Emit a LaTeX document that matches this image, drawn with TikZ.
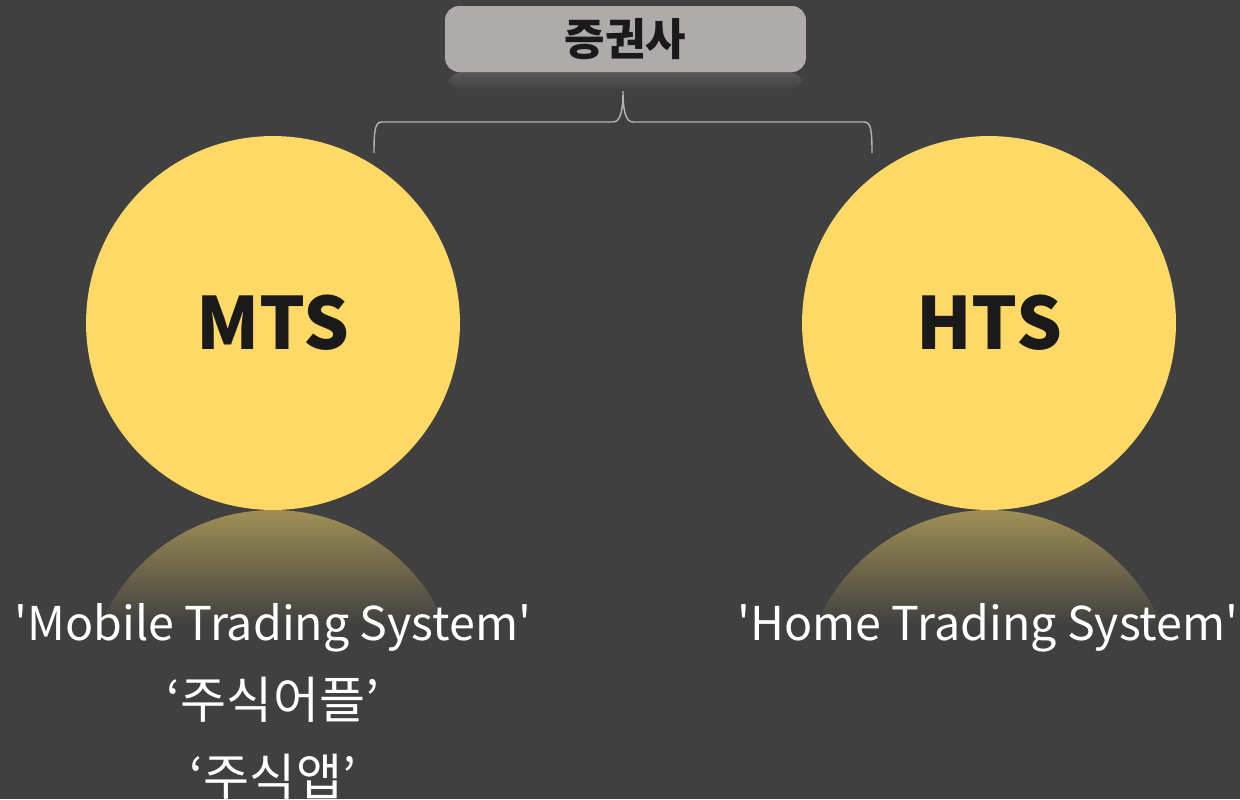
\documentclass[tikz,border=0pt]{standalone}
\usepackage{fontspec}
\setmainfont{Noto Sans CJK KR}[Ligatures=TeXOff]
\usepackage{tikz}
\usepackage{xcolor}
\usetikzlibrary{
  positioning, calc,
}
\definecolor{cBack}     {HTML}{404040}
\definecolor{cGold}     {HTML}{FFD966}
\definecolor{cGoldDim}  {HTML}{A08F55}
\definecolor{cBox}      {HTML}{AFABAA}
\definecolor{cInk}      {HTML}{1A1A1A}
\definecolor{cBrace}    {HTML}{B4B4B4}

\tikzset{
  sysdisk/.style  = {circle, fill=cGold, minimum size=7.48cm, inner sep=0pt,
                     font=\fontsize{41}{46}\selectfont\bfseries, text=cInk},
  caption/.style  = {font=\fontsize{26.5}{32}\selectfont, text=white,
                     anchor=base},
  kocaption/.style = {caption, font=\fontsize{28.5}{34}\selectfont},
}

\begin{document}
\begin{tikzpicture}[x=0.02cm, y=-0.02cm]
  \fill[cBack] (0,0) rectangle (1240,799);
  \useasboundingbox (0,0) rectangle (1240,799);

  % reflections under the discs
  \foreach \cx in {273, 989} {
    \begin{scope}
      \clip (\cx,697) circle [radius=187];
      \shade[top color=cGoldDim, bottom color=cBack]
        (\cx-190,510) rectangle (\cx+190,625);
    \end{scope}
  }
  \shade[top color=black!30!cBox!45!cBack, bottom color=cBack, rounded corners=8]
    (448,72) rectangle (803,90);

  % header box
  \node[fill=cBox, rounded corners=8, minimum width=7.22cm, minimum height=1.32cm,
        font=\fontsize{25}{30}\selectfont\bfseries, text=cInk]
        (broker) at (625.5,39) {증권사};

  % discs
  \node[sysdisk] (mts) at (273,323) {MTS};
  \node[sysdisk] (hts) at (989,323) {HTS};

  % brace from the box down to both discs
  \coordinate (braceL) at (374,153);
  \coordinate (braceR) at (872,153);
  \coordinate (braceTip) at (623,91);
  \draw[cBrace, line width=0.8pt]
    (braceL) .. controls (374,130) and (375,122) .. (382,122)
    -- (613,122) .. controls (620,122) and (623,112) .. (braceTip)
    .. controls (623,112) and (626,122) .. (633,122)
    -- (864,122) .. controls (871,122) and (872,130) .. (braceR);

  % captions
  \node[caption] (mtscap) at (273,640) {'Mobile Trading System'};
  \node[kocaption] (mtsko1) at (273,718) {‘주식어플’};
  \node[kocaption] (mtsko2) at (273,795) {‘주식앱’};
  \node[caption] (htscap) at (988,640) {'Home Trading System'};
\end{tikzpicture}
\end{document}
